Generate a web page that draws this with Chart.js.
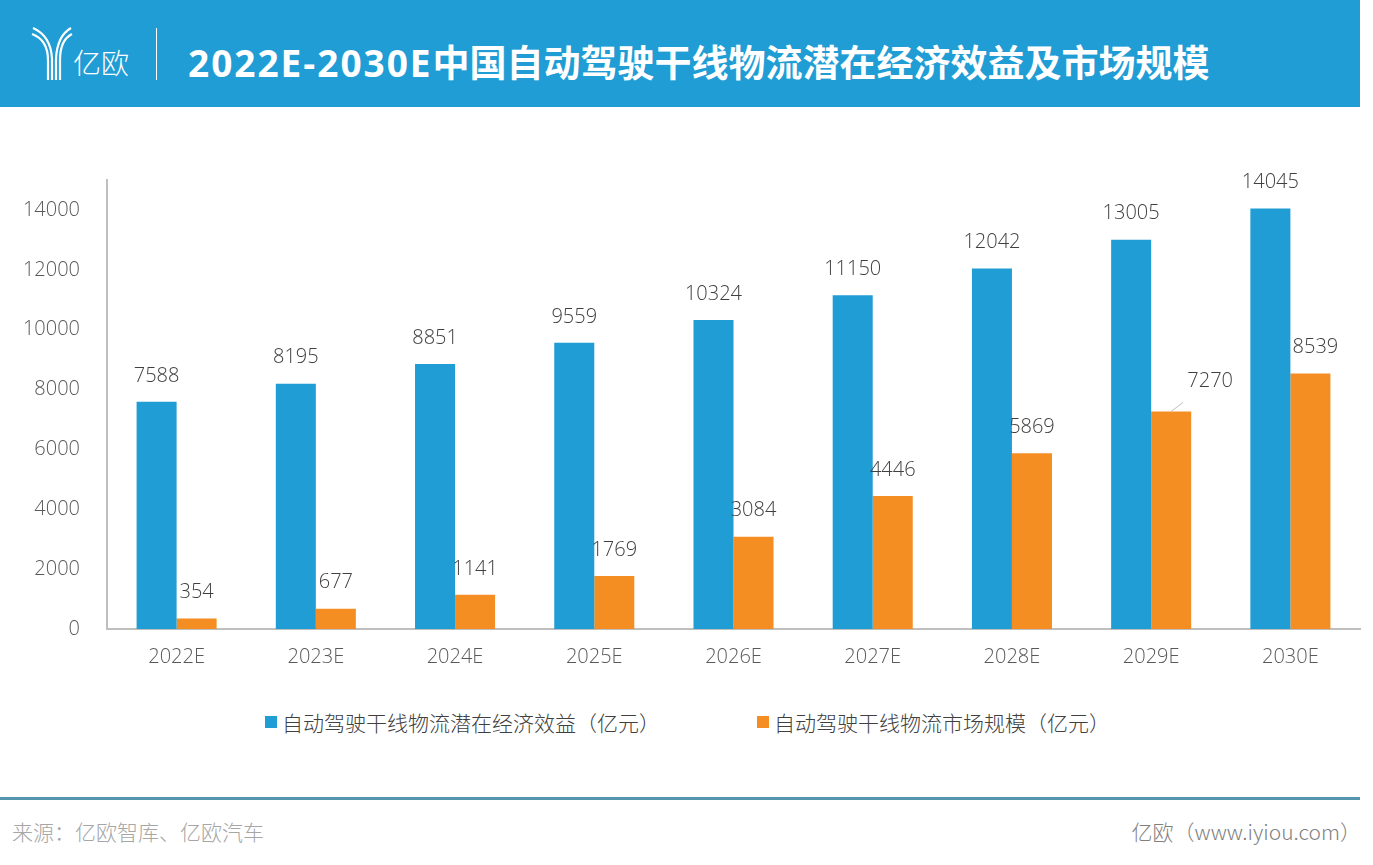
<!DOCTYPE html>
<html lang="zh">
<head>
    <meta charset="UTF-8">
    <title>2022E-2030E中国自动驾驶干线物流潜在经济效益及市场规模</title>
    <script src="https://cdn.jsdelivr.net/npm/chart.js"></script>
    <style>
        body { margin: 0; width: 1373px; height: 865px; background: #fff; position: relative; overflow: hidden;
               font-family: "Open Sans", "Noto Sans CJK SC", sans-serif; font-weight: 300; }
        .header { position: absolute; left: 0; top: 0; width: 1360px; height: 107px; background: #1f9dd4; }
        .logo { position: absolute; left: 31px; top: 26px; }
        .logo-text { position: absolute; left: 73px; top: 42px; color: #fff; font-size: 28px; font-family: "Noto Sans CJK SC"; font-weight: 300; }
        .divider { position: absolute; left: 156px; top: 28px; width: 1px; height: 52px; background: #fff; }
        .title { position: absolute; left: 188px; top: 38px; color: #fff; font-size: 37px; font-weight: 700;
                 font-family: "Open Sans", "Noto Sans CJK SC"; line-height: 50px; white-space: nowrap; }
        .title .latin { letter-spacing: 2px; }
        .chart-box { position: absolute; left: 0; top: 107px; width: 1373px; height: 580px; }
        .legend { position: absolute; top: 708px; left: 265px; display: flex; font-size: 21px; color: #404040;
                  font-family: "Noto Sans CJK SC"; font-weight: 300; line-height: 28px; }
        .legend span.item { display: flex; align-items: center; }
        .legend i { display: inline-block; width: 12px; height: 12px; margin-right: 5px; }
        .footer-line { position: absolute; left: 0; top: 797px; width: 1360px; height: 3px; background: #5595ae; }
        .source { position: absolute; left: 12px; top: 816px; font-size: 21px; color: #a6a6a6; font-family: "Noto Sans CJK SC"; font-weight: 300; }
        .site { position: absolute; right: 12px; top: 816px; font-size: 21px; color: #7f7f7f; font-family: "Noto Sans CJK SC"; font-weight: 300; }
    </style>
</head>
<body>
    <div class="header">
        <svg class="logo" width="42" height="54" viewBox="0 0 42 54">
            <g fill="none" stroke="#fff" stroke-width="2.2">
                <path d="M17 54 V34 Q17 14 1 8"/>
                <path d="M21 54 V33 Q20 10 2 2"/>
                <path d="M25 54 V33 Q26 10 40 2"/>
                <path d="M29 54 V34 Q29 14 41 8"/>
            </g>
        </svg>
        <div class="logo-text">亿欧</div>
        <div class="divider"></div>
        <div class="title"><span class="latin">2022E-2030E</span>中国自动驾驶干线物流潜在经济效益及市场规模</div>
    </div>

    <div class="chart-box">
        <canvas id="chart"></canvas>
    </div>

    <div class="legend" id="legend"></div>

    <div class="footer-line"></div>
    <div class="source">来源：亿欧智库、亿欧汽车</div>
    <div class="site">亿欧（www.iyiou.com）</div>

    <script>
        const years = ['2022E', '2023E', '2024E', '2025E', '2026E', '2027E', '2028E', '2029E', '2030E'];
        const benefitValues = [7588, 8195, 8851, 9559, 10324, 11150, 12042, 13005, 14045];
        const marketValues = [354, 677, 1141, 1769, 3084, 4446, 5869, 7270, 8539];
        const seriesNames = ['自动驾驶干线物流潜在经济效益（亿元）', '自动驾驶干线物流市场规模（亿元）'];
        const yTicks = [0, 2000, 4000, 6000, 8000, 10000, 12000, 14000];

        const blue = '#1f9dd4';
        const orange = '#f58e22';

        // value labels above the bars (7270 is pushed aside with a leader line)
        const barLabels = {
            id: 'barLabels',
            afterDatasetsDraw(chart) {
                const ctx = chart.ctx;
                ctx.save();
                ctx.font = '300 20px "Open Sans", sans-serif';
                ctx.fillStyle = '#404040';
                ctx.textAlign = 'center';
                ctx.textBaseline = 'middle';
                chart.data.datasets.forEach((ds, di) => {
                    chart.getDatasetMeta(di).data.forEach((bar, i) => {
                        let x = bar.x, y = bar.y - 26;
                        if (di === 1 && i === 7) {
                            x = bar.x + 39;
                            y = bar.y - 30;
                            ctx.strokeStyle = '#bfbfbf';
                            ctx.lineWidth = 1;
                            ctx.beginPath();
                            ctx.moveTo(bar.x, bar.y);
                            ctx.lineTo(bar.x + 12, bar.y - 9);
                            ctx.stroke();
                        }
                        if (di === 1 && i === 8) x = bar.x + 5;
                        ctx.fillText(ds.data[i], x, y);
                    });
                });
                ctx.restore();
            }
        };

        const ctx = document.getElementById('chart').getContext('2d');
        new Chart(ctx, {
            type: 'bar',
            data: {
                labels: years,
                datasets: [
                    { label: seriesNames[0], data: benefitValues, backgroundColor: blue },
                    { label: seriesNames[1], data: marketValues, backgroundColor: orange }
                ]
            },
            options: {
                responsive: true,
                maintainAspectRatio: false,
                animation: false,
                layout: { padding: { top: 73, right: 13, left: 0, bottom: 0 } },
                datasets: { bar: { barPercentage: 1, categoryPercentage: 0.575 } },
                plugins: {
                    legend: { display: false },
                    tooltip: { enabled: false }
                },
                scales: {
                    x: {
                        grid: { display: false, drawTicks: false },
                        border: { display: true, color: '#bfbfbf', width: 2 },
                        ticks: { color: '#595959', padding: 16, font: { family: '"Open Sans"', size: 20, weight: 300 } },
                        afterFit: (s) => { s.height = 58; }
                    },
                    y: {
                        min: 0,
                        max: 15000,
                        grid: { display: false, drawTicks: false },
                        border: { display: true, color: '#bfbfbf', width: 2 },
                        ticks: { stepSize: 2000, includeBounds: false, color: '#595959', padding: 27,
                                 font: { family: '"Open Sans"', size: 20, weight: 300 },
                                 callback: (v) => String(v) },
                        afterBuildTicks: (s) => { s.ticks = yTicks.map(v => ({ value: v })); },
                        afterFit: (s) => { s.width = 107; }
                    }
                }
            },
            plugins: [barLabels]
        });

        // legend
        const legend = document.getElementById('legend');
        [blue, orange].forEach((c, i) => {
            const item = document.createElement('span');
            item.className = 'item';
            if (i > 0) item.style.marginLeft = '97px';
            item.innerHTML = '<i style="background:' + c + '"></i>' + seriesNames[i];
            legend.appendChild(item);
        });
    </script>
</body>
</html>
